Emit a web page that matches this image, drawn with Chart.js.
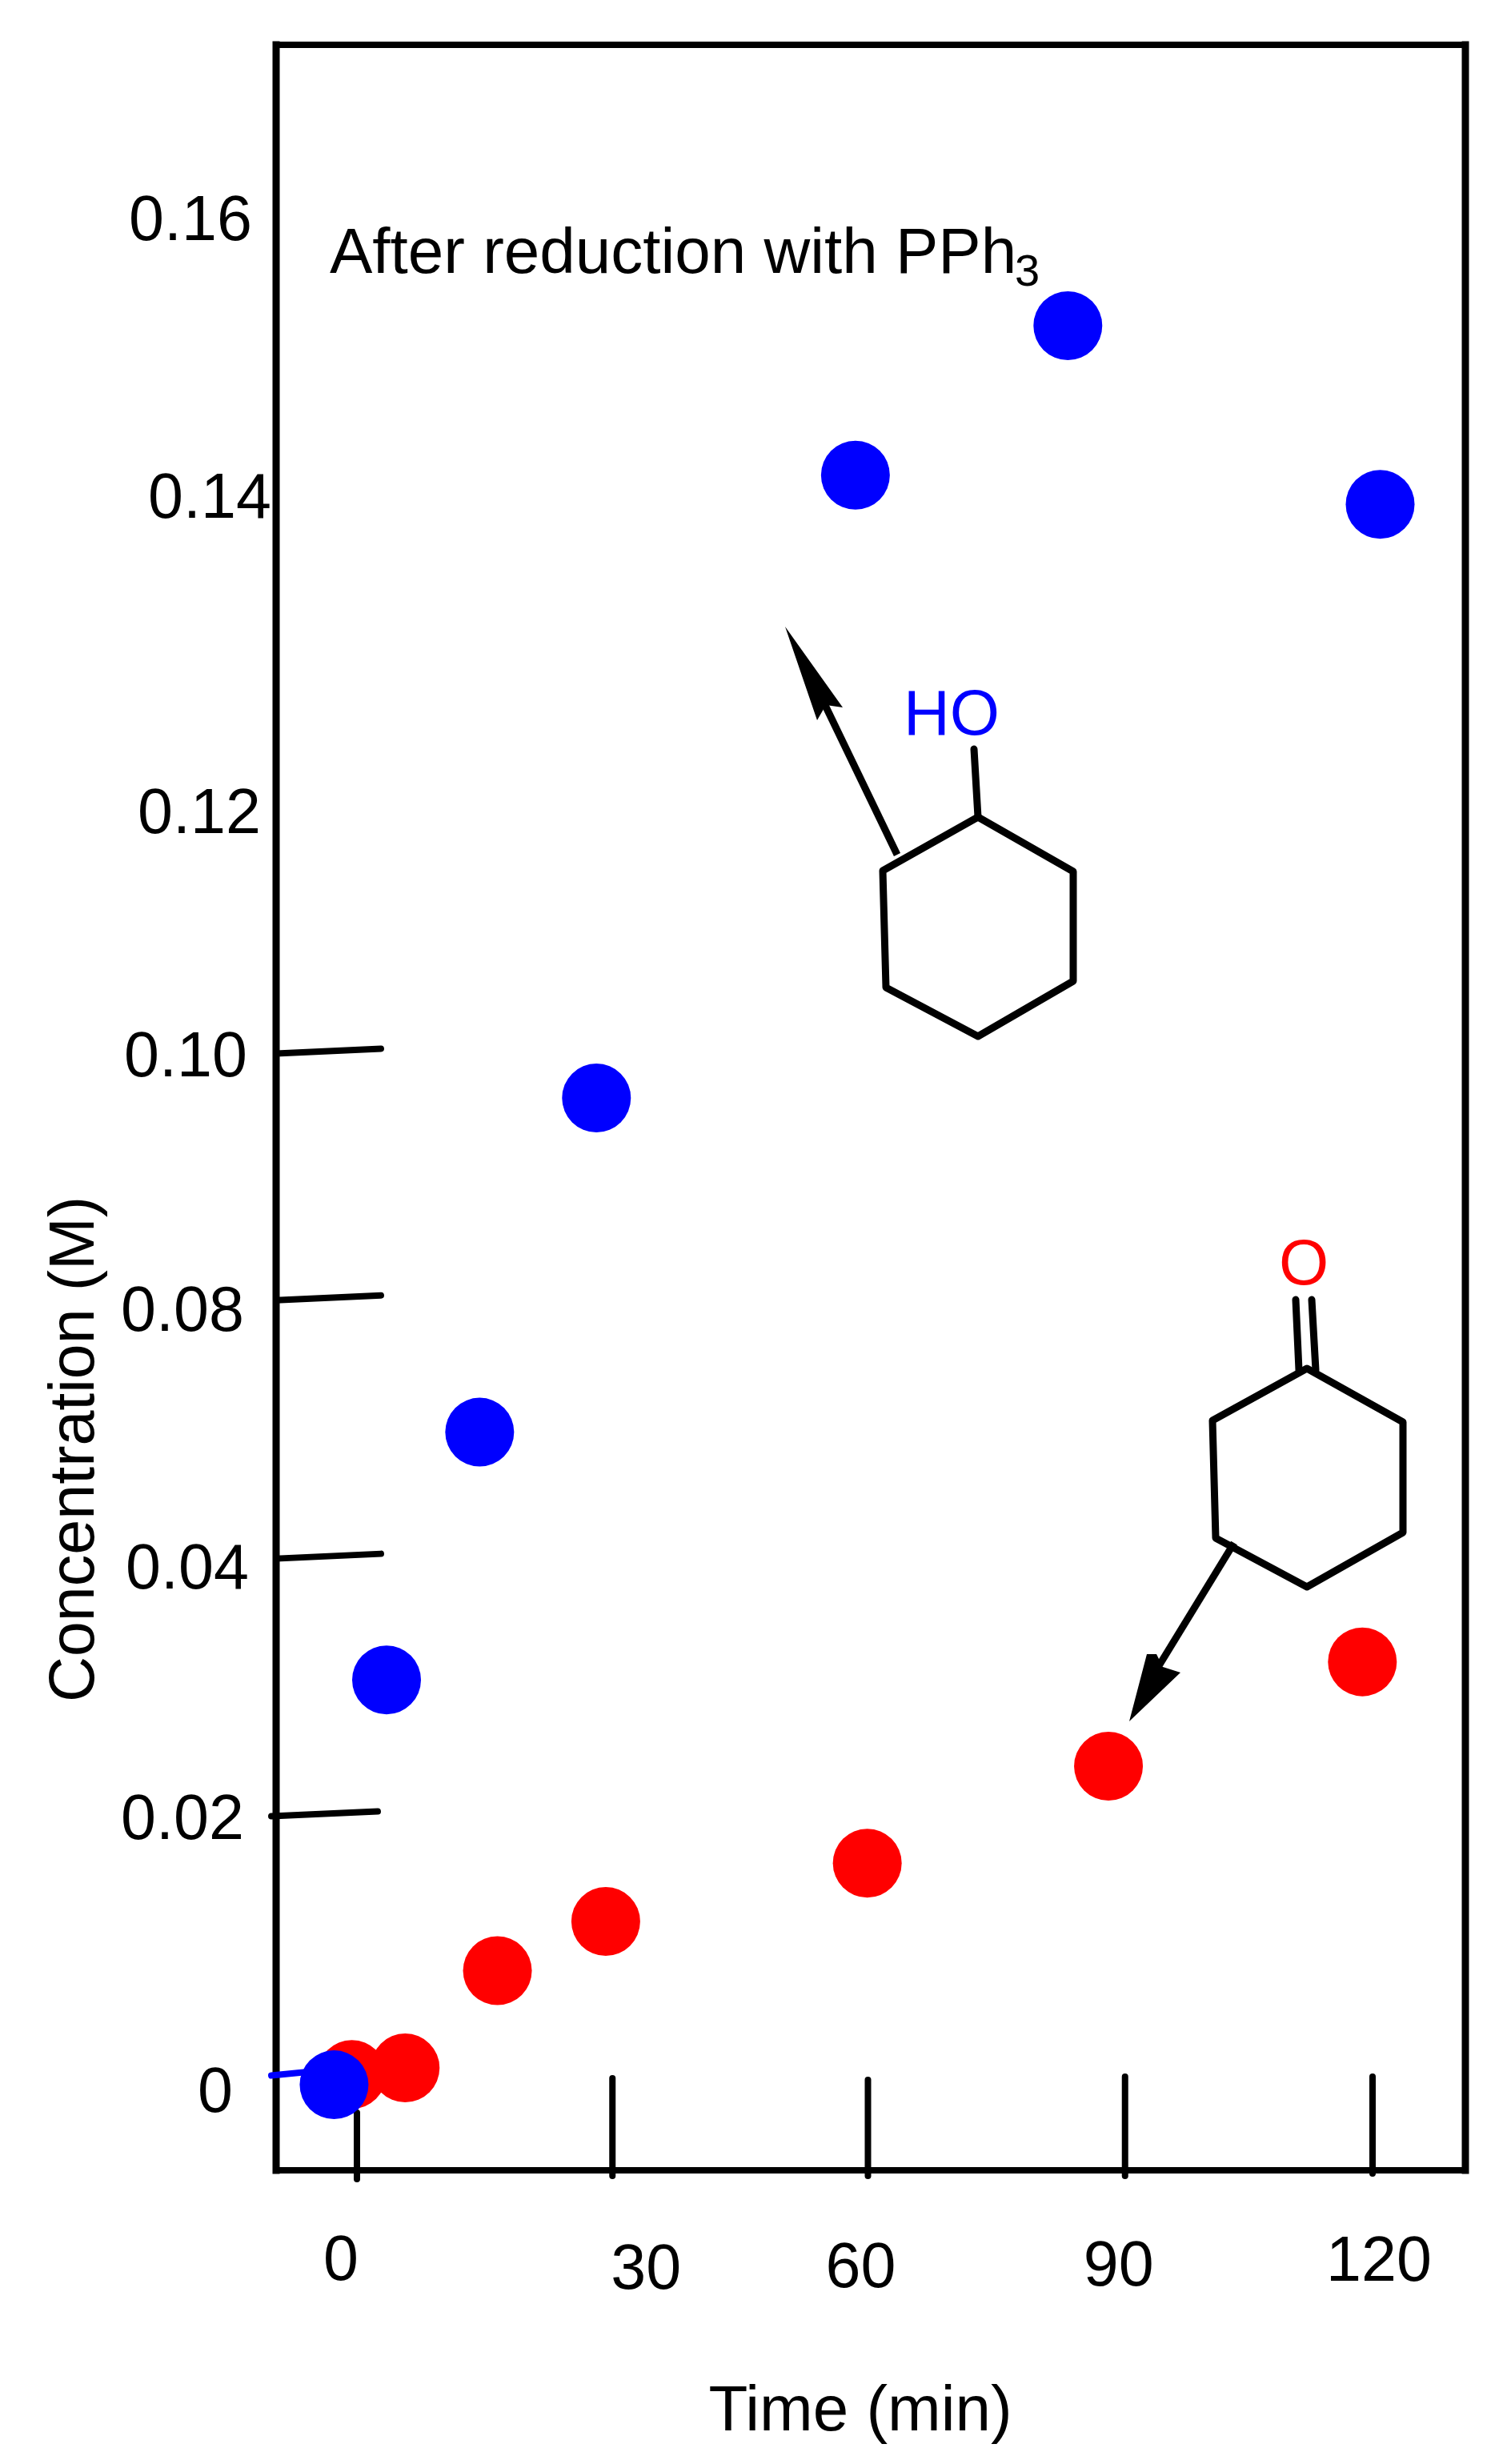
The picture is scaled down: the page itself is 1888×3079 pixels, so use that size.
<!DOCTYPE html>
<html>
<head>
<meta charset="utf-8">
<title>Concentration vs time</title>
<script src="https://cdn.jsdelivr.net/npm/chart.js@4/dist/chart.umd.js"></script>
<style>
    html, body { margin: 0; padding: 0; background: #fff; overflow: hidden; }
    canvas { display: block; }
</style>
</head>
<body>
<canvas id="graph" width="1888" height="3079"></canvas>
<script>
// values
const time_ol = [-2.7, 3.5, 14.5, 28.3, 58.9, 84.0, 120.9];
const conc_ol = [-0.0009, 0.0304, 0.0592, 0.0962, 0.1412, 0.152, 0.1392];
const time_one = [-0.6, 5.7, 16.6, 29.4, 60.3, 88.8, 118.8];
const conc_one = [-0.0001, 0.0004, 0.0079, 0.0117, 0.0162, 0.0237, 0.0318];

const x_ticks = [0, 30, 60, 90, 120];
const y_ticks = [0, 0.02, 0.04, 0.08, 0.10];
const y_labels = ['0', '0.02', '0.04', '0.08', '0.10', '0.12', '0.14', '0.16'];

// the printed axis is not even: 0.04 to 0.08 takes the same room as 0.02 to 0.04
const axis_values = [0, 0.02, 0.04, 0.08, 0.10, 0.12, 0.14, 0.16];
const axis_steps = [0, 1.006, 2.006, 3.009, 3.966, 4.916, 6.137, 7.211];

const FONT = '"Liberation Sans", Arial, sans-serif';
const BLUE = '#0000ff';
const RED = '#ff0000';

function value_to_step(v) {
    let i = 0;
    while (i < axis_values.length - 2 && v > axis_values[i + 1]) i++;
    let slope = (axis_steps[i + 1] - axis_steps[i]) / (axis_values[i + 1] - axis_values[i]);
    return axis_steps[i] + (v - axis_values[i]) * slope;
}

class PrintedScale extends Chart.LinearScale {
    getPixelForValue(value) {
        let low = value_to_step(this.min);
        let high = value_to_step(this.max);
        return this.getPixelForDecimal((value_to_step(value) - low) / (high - low));
    }
}
PrintedScale.id = 'printed';
PrintedScale.defaults = Chart.LinearScale.defaults;
Chart.register(PrintedScale);

function line(ctx, x1, y1, x2, y2, width, color, cap) {
    ctx.beginPath();
    ctx.moveTo(x1, y1);
    ctx.lineTo(x2, y2);
    ctx.lineWidth = width;
    ctx.strokeStyle = color || '#000';
    ctx.lineCap = cap || 'round';
    ctx.stroke();
}

function shape(ctx, pts, closed, fill) {
    ctx.beginPath();
    pts.forEach((p, i) => i ? ctx.lineTo(p[0], p[1]) : ctx.moveTo(p[0], p[1]));
    if (closed) ctx.closePath();
    if (fill) { ctx.fillStyle = '#000'; ctx.fill(); }
    else { ctx.lineWidth = 9; ctx.strokeStyle = '#000'; ctx.lineJoin = 'round'; ctx.stroke(); }
}

function text(ctx, str, x, y, size, color, align) {
    ctx.font = size + 'px ' + FONT;
    ctx.fillStyle = color || '#000';
    ctx.textAlign = align || 'center';
    ctx.textBaseline = 'alphabetic';
    ctx.fillText(str, x, y);
}

// frame and hand placed ticks, under the points
const frame_ticks = {
    id: 'frame_ticks',
    beforeDatasetsDraw(chart) {
        const ctx = chart.ctx;
        const { left, right, top, bottom } = chart.chartArea;
        const sx = chart.scales.x, sy = chart.scales.y;
        ctx.save();
        line(ctx, left, top, right, top, 8, '#000', 'square');
        line(ctx, left, top, left, bottom, 9, '#000', 'square');
        line(ctx, right, top, right, bottom, 9, '#000', 'square');
        line(ctx, left, bottom, right, bottom, 8, '#000', 'square');

        const tick_dx = [0, 2, 4, 8, 0];
        const tick_top = [2640, 2597, 2599, 2595, 2595];
        const tick_end = [2723, 2719, 2719, 2719, 2716];
        x_ticks.forEach((t, i) => {
            let x = sx.getPixelForValue(t) + tick_dx[i];
            line(ctx, x, tick_top[i], x, tick_end[i], 8);
        });

        const tick_from = [339, 339, 345, 345, 345];
        const tick_to = [400, 472, 476, 476, 476];
        y_ticks.forEach((t, i) => {
            let y = sy.getPixelForValue(t);
            line(ctx, tick_from[i], y + 3, tick_to[i], y - 3, 8, i == 0 ? BLUE : '#000');
        });
        ctx.restore();
    },
    afterDatasetsDraw(chart) {
        const ctx = chart.ctx;
        const sx = chart.scales.x, sy = chart.scales.y;
        ctx.save();

        // tick labels sit unevenly in the original
        const x_label_dx = [-20, 44, -5, 0, 8];
        const x_label_base = [2849, 2860, 2858, 2856, 2850];
        x_ticks.forEach((t, i) => {
            text(ctx, String(t), sx.getPixelForValue(t) + x_label_dx[i], x_label_base[i], 79);
        });
        const y_label_x = [269, 228, 234, 228, 232, 249, 262, 238];
        const y_label_dy = [48, 31, 40, 41, 31, 33, 33, 31];
        y_labels.forEach((t, i) => {
            text(ctx, t, y_label_x[i], sy.getPixelForValue(axis_values[i]) + y_label_dy[i], 79);
        });

        text(ctx, 'Time (min)', 1075, 3037, 80);
        ctx.save();
        ctx.translate(117, 1811);
        ctx.rotate(-Math.PI / 2);
        text(ctx, 'Concentration (M)', 0, 0, 79);
        ctx.restore();

        text(ctx, 'After reduction with PPh', 412, 341, 80, '#000', 'left');
        text(ctx, '3', 1268, 357, 56, '#000', 'left');

        // cyclohexanol and its arrow
        shape(ctx, [[1222, 1021], [1341, 1089], [1341, 1226], [1222, 1295], [1107, 1234], [1103, 1088]], true);
        line(ctx, 1222, 1021, 1217, 936, 9);
        line(ctx, 1121, 1068, 1028, 875, 9, '#000', 'butt');
        shape(ctx, [[981, 783], [1053, 884], [1032, 881], [1021, 900]], true, true);
        text(ctx, 'HO', 1189, 918, 80, BLUE);

        // cyclohexanone and its arrow
        shape(ctx, [[1633, 1710], [1753, 1777], [1753, 1915], [1633, 1983], [1519, 1922], [1515, 1775]], true);
        line(ctx, 1619, 1624, 1623, 1712, 9);
        line(ctx, 1639, 1624, 1644, 1712, 9);
        line(ctx, 1542, 1928, 1449, 2080, 9, '#000', 'butt');
        shape(ctx, [[1411, 2151], [1433, 2067], [1445, 2067], [1453, 2083], [1475, 2090]], true, true);
        text(ctx, 'O', 1629, 1605, 80, RED);
        ctx.restore();
    }
};

window.onload = () => {
    new Chart('graph', {
        type: 'scatter',
        data: {
            datasets: [
                {
                    label: 'Cyclohexanol',
                    data: time_ol.map((t, i) => ({ x: t, y: conc_ol[i] })),
                    backgroundColor: BLUE
                },
                {
                    label: 'Cyclohexanone',
                    data: time_one.map((t, i) => ({ x: t, y: conc_one[i] })),
                    backgroundColor: RED
                }
            ]
        },
        options: {
            responsive: false,
            animation: false,
            layout: { padding: { left: 345, right: 57, top: 56, bottom: 367 } },
            elements: { point: { radius: 43, borderWidth: 0, hoverRadius: 43 } },
            plugins: { legend: { display: false }, tooltip: { enabled: false } },
            scales: {
                x: { type: 'linear', display: false, min: -9.55, max: 130.97 },
                y: { type: 'printed', display: false, min: -0.0075, max: 0.1723 }
            }
        },
        plugins: [frame_ticks]
    });
};
</script>
</body>
</html>
